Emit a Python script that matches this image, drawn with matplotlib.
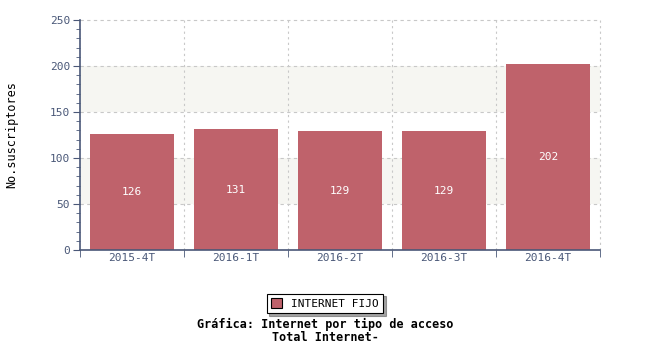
import numpy as np
import matplotlib.pyplot as plt
from matplotlib.ticker import MultipleLocator

# Datos
periodos = ['2015-4T', '2016-1T', '2016-2T', '2016-3T', '2016-4T']
suscriptores = [126, 131, 129, 129, 202]
serie = 'INTERNET FIJO'

axis_col = '#4a5878'
bar_col = '#bf626b'
mono = 'DejaVu Sans Mono'

fig = plt.figure(figsize=(6.5, 3.5), dpi=100)
ax = fig.add_axes([0.123, 0.286, 0.800, 0.657])

x = np.arange(len(periodos))
ax.set_xlim(-0.5, len(periodos) - 0.5)
ax.set_ylim(0, 250)

# bandas alternas de fondo
for lo, hi in [(50, 100), (150, 200)]:
    ax.axhspan(lo, hi, color='#f6f6f2', zorder=0, lw=0)

# rejilla
for yv in [50, 100, 150, 200, 250]:
    ax.axhline(yv, color='#c8c8c8', lw=0.8, ls=(0, (3, 3)), zorder=1,
               clip_on=False)
for xv in np.arange(0.5, len(periodos) + 0.5, 1.0):
    ax.axvline(xv, color='#c8c8c8', lw=0.8, ls=(0, (2, 3)), zorder=1,
               clip_on=False)

bars = ax.bar(x, suscriptores, width=0.81, color=bar_col, zorder=2)
for b, v in zip(bars, suscriptores):
    ax.text(b.get_x() + b.get_width() / 2, v / 2, str(v), ha='center',
            va='center', color='white', fontsize=8, family=mono, zorder=3)

ax.set_xticks(x)
ax.set_xticklabels(periodos, family=mono, fontsize=8, color=axis_col)
ax.set_xticks(np.arange(-0.5, len(periodos), 1.0), minor=True)
ax.tick_params(axis='x', which='major', length=0, pad=2)
ax.tick_params(axis='x', which='minor', length=5, color=axis_col, direction='out')

ax.yaxis.set_major_locator(MultipleLocator(50))
ax.yaxis.set_minor_locator(MultipleLocator(10))
ax.tick_params(axis='y', which='major', length=5, color=axis_col, labelsize=8,
               labelcolor=axis_col, pad=2)
ax.tick_params(axis='y', which='minor', length=3, color=axis_col)
for lab in ax.get_yticklabels():
    lab.set_family(mono)

for s in ['top', 'right']:
    ax.spines[s].set_visible(False)
for s in ['left', 'bottom']:
    ax.spines[s].set_color(axis_col)
    ax.spines[s].set_linewidth(1.2)
    ax.spines[s].set_zorder(4)

fig.text(0.018, 0.615, 'No.suscriptores', rotation=90, ha='center',
         va='center', family=mono, fontsize=8.5)

leg = ax.legend([bars[0]], [serie], loc='center', bbox_to_anchor=(0.5, 0.133),
                bbox_transform=fig.transFigure, prop={'family': mono, 'size': 8},
                frameon=True, fancybox=False, shadow=True, handlelength=1.0,
                handleheight=1.0, borderpad=0.4)
leg.get_frame().set_edgecolor('black')
leg.get_frame().set_linewidth(0.8)
leg.legend_handles[0].set_edgecolor('black')
leg.legend_handles[0].set_linewidth(0.8)

fig.text(0.5, 0.072, 'Gráfica: Internet por tipo de acceso', ha='center',
         va='center', family=mono, fontsize=8.5, fontweight='bold')
fig.text(0.5, 0.035, 'Total Internet-', ha='center', va='center',
         family=mono, fontsize=8.5, fontweight='bold')

fig.savefig('out.png', dpi=100)
